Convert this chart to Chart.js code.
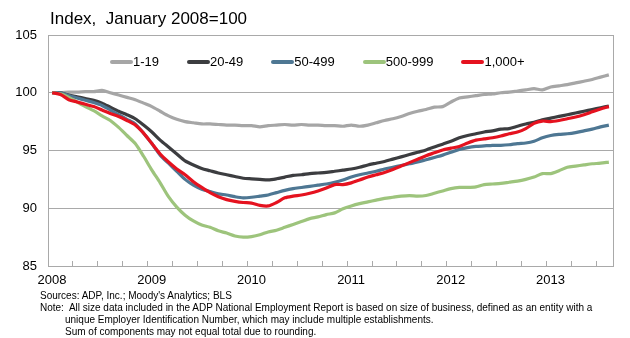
<!DOCTYPE html>
<html>
<head>
<meta charset="utf-8">
<script src="https://cdn.jsdelivr.net/npm/chart.js@4.4.0/dist/chart.umd.min.js"></script>
<style>
  body { margin: 0; background: #fff; font-family: "Liberation Sans", Arial, sans-serif; color: #000; }
  #wrap { position: relative; width: 630px; height: 338px; }
  #title { position: absolute; left: 50px; top: 9px; font-size: 17px; white-space: pre; }
  #legend { position: absolute; left: 110px; top: 54px; display: flex; gap: 28px; font-size: 13px; }
  .item { display: flex; align-items: center; }
  .swatch { width: 23px; height: 4px; border-radius: 2px; }
  #notes { position: absolute; left: 40px; top: 290px; font-size: 10px; line-height: 12px; white-space: pre; }
  #notes .ind { padding-left: 25px; }
</style>
</head>
<body>
<div id="wrap">
  <canvas id="myChart" width="630" height="338"></canvas>
  <div id="title">Index,  January 2008=100</div>
  <div id="legend"></div>
  <div id="notes"><div>Sources: ADP, Inc.; Moody's Analytics; BLS</div><div>Note:  All size data included in the ADP National Employment Report is based on size of business, defined as an entity with a</div><div class="ind">unique Employer Identification Number, which may include multiple establishments.</div><div class="ind">Sum of components may not equal total due to rounding.</div></div>
</div>
<script>
// monthly index, Jan 2008 .. Aug 2013
const years = ['2008', '2009', '2010', '2011', '2012', '2013']
const names = ['1-19', '20-49', '50-499', '500-999', '1,000+']
const colors = ['#a6a6a6', '#3c3d40', '#4e7793', '#9dc47c', '#e5121f']

const size1to19 = [100, 100, 100.05, 100.05, 100.1, 100.1, 100.2, 100, 99.8, 99.6, 99.4, 99.1,
  98.8, 98.4, 98, 97.7, 97.5, 97.4, 97.3, 97.3, 97.25, 97.2, 97.2, 97.15,
  97.15, 97.05, 97.15, 97.2, 97.25, 97.2, 97.25, 97.2, 97.2, 97.15, 97.15, 97.1,
  97.2, 97.1, 97.2, 97.4, 97.6, 97.75, 97.95, 98.2, 98.4, 98.55, 98.75, 98.8,
  99.2, 99.55, 99.65, 99.75, 99.85, 99.9, 100, 100.05, 100.15, 100.25, 100.35, 100.25,
  100.5, 100.6, 100.7, 100.85, 101, 101.15, 101.35, 101.55]
const size20to49 = [100, 100, 99.8, 99.65, 99.5, 99.35, 99.1, 98.75, 98.4, 98.1, 97.75, 97.2,
  96.6, 95.9, 95.3, 94.7, 94.1, 93.75, 93.45, 93.25, 93.05, 92.9, 92.75, 92.6,
  92.55, 92.5, 92.45, 92.55, 92.7, 92.85, 92.9, 93, 93.05, 93.1, 93.2, 93.3,
  93.4, 93.55, 93.75, 93.9, 94.05, 94.25, 94.45, 94.65, 94.85, 95.05, 95.3, 95.55,
  95.8, 96.1, 96.3, 96.45, 96.6, 96.7, 96.85, 96.9, 97.1, 97.3, 97.45, 97.65,
  97.8, 97.95, 98.1, 98.25, 98.4, 98.55, 98.7, 98.85]
const size50to499 = [100, 100, 99.75, 99.55, 99.35, 99.15, 98.9, 98.5, 98.1, 97.7, 97.3, 96.5,
  95.6, 94.6, 93.9, 93.2, 92.5, 92, 91.65, 91.45, 91.25, 91.15, 91, 90.9,
  90.95, 91.05, 91.15, 91.35, 91.55, 91.7, 91.8, 91.9, 92, 92.1, 92.25, 92.45,
  92.7, 92.9, 93.05, 93.2, 93.4, 93.55, 93.7, 93.85, 94, 94.2, 94.4, 94.6,
  94.85, 95.1, 95.25, 95.35, 95.4, 95.45, 95.45, 95.5, 95.6, 95.65, 95.8, 96.1,
  96.3, 96.4, 96.45, 96.55, 96.7, 96.85, 97.05, 97.2]
const size500to999 = [100, 99.9, 99.6, 99.2, 98.8, 98.45, 98, 97.6, 97, 96.3, 95.6, 94.5,
  93.3, 92.2, 91, 90.1, 89.4, 88.9, 88.55, 88.35, 88.05, 87.85, 87.6, 87.5,
  87.55, 87.7, 87.95, 88.1, 88.35, 88.6, 88.85, 89.1, 89.25, 89.45, 89.6, 89.95,
  90.2, 90.4, 90.55, 90.7, 90.85, 90.95, 91.05, 91.1, 91.05, 91.1, 91.3, 91.5,
  91.7, 91.8, 91.8, 91.85, 92.05, 92.1, 92.15, 92.25, 92.35, 92.5, 92.7, 93,
  93, 93.25, 93.55, 93.65, 93.75, 93.85, 93.9, 94]
const size1000plus = [100, 99.85, 99.4, 99.2, 99, 98.8, 98.5, 98.2, 97.95, 97.6, 97.2, 96.5,
  95.6, 94.7, 94, 93.4, 92.9, 92.3, 91.8, 91.35, 91, 90.75, 90.6, 90.5,
  90.45, 90.25, 90.2, 90.5, 90.9, 91.05, 91.15, 91.3, 91.5, 91.75, 92.05, 92.05,
  92.2, 92.45, 92.7, 92.9, 93.1, 93.35, 93.65, 93.95, 94.25, 94.55, 94.8, 95.05,
  95.2, 95.35, 95.65, 95.9, 96, 96.1, 96.25, 96.45, 96.6, 96.9, 97.35, 97.55,
  97.5, 97.6, 97.75, 97.9, 98.1, 98.35, 98.6, 98.8]

const series = [size1to19, size20to49, size50to499, size500to999, size1000plus]

// legend, built from the same names / colours
let legend = document.getElementById('legend')
names.forEach((n, k) => {
  let it = document.createElement('div')
  it.className = 'item'
  it.innerHTML = '<span class="swatch" style="background:' + colors[k] + '"></span><span>' + n + '</span>'
  legend.appendChild(it)
})

const gridCol = '#a9a9a9'

new Chart('myChart', {
  type: 'line',
  data: {
    datasets: series.map((vals, k) => ({
      label: names[k],
      data: vals.map((v, i) => ({ x: i + 0.5, y: v })),
      borderColor: colors[k],
      backgroundColor: colors[k],
      borderWidth: 3.2,
      pointRadius: 0,
      tension: 0.25,
      order: 5 - k
    }))
  },
  options: {
    responsive: false,
    animation: false,
    layout: { padding: { left: 0, right: 17, top: 35, bottom: 0 } },
    plugins: { legend: { display: false }, title: { display: false }, tooltip: { enabled: false } },
    scales: {
      x: {
        type: 'linear',
        min: 0,
        max: 68,
        grid: { drawOnChartArea: false, tickLength: -5, color: gridCol },
        border: { color: gridCol },
        ticks: {
          stepSize: 3,
          autoSkip: false,
          includeBounds: false,
          maxRotation: 0,
          padding: 12,
          labelOffset: 4,
          color: '#000',
          font: { family: 'Liberation Sans', size: 13 },
          callback: (v) => (v % 12 === 0 ? years[v / 12] : '')
        },
        afterFit: (s) => { s.height = 72 }
      },
      y: {
        min: 85,
        max: 105,
        grid: { drawTicks: false, color: gridCol },
        border: { color: gridCol },
        ticks: { stepSize: 5, padding: 11, color: '#000', font: { family: 'Liberation Sans', size: 13 } },
        afterFit: (s) => { s.width = 48 }
      },
      y2: {
        position: 'right',
        min: 85,
        max: 105,
        grid: { drawOnChartArea: false, drawTicks: false },
        border: { color: gridCol },
        ticks: { display: false },
        afterFit: (s) => { s.width = 0 }
      }
    }
  }
})
</script>
</body>
</html>
